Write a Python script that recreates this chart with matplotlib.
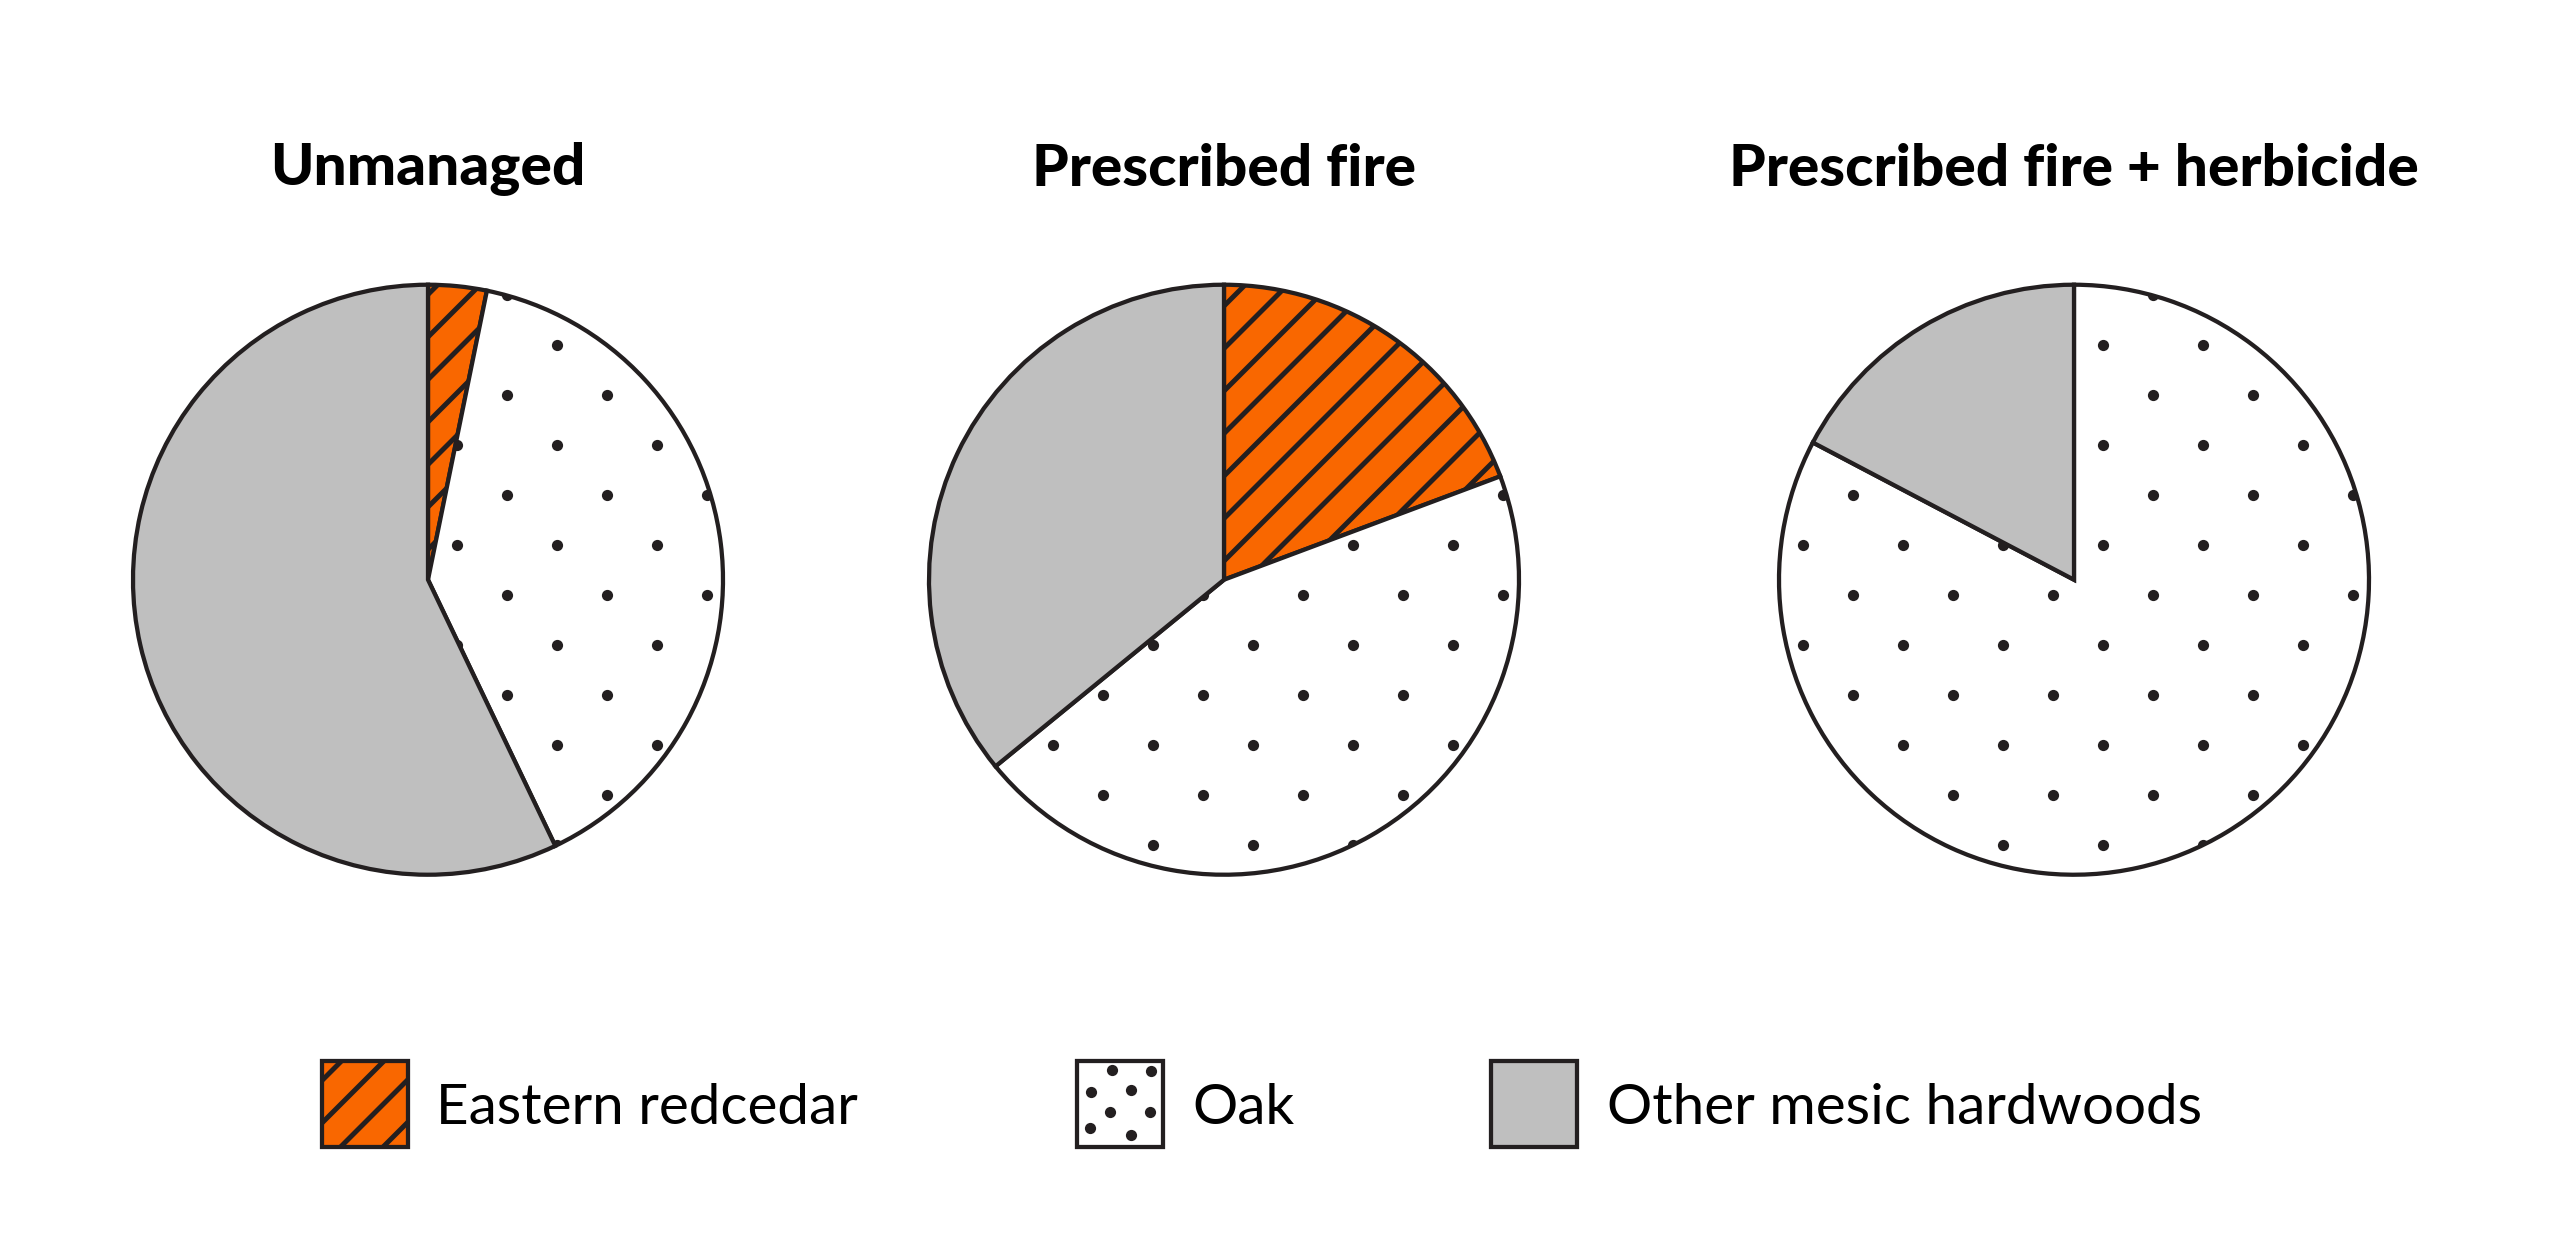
import numpy as np
import matplotlib.pyplot as plt
from matplotlib.patches import Rectangle

# Species share (%) per treatment
treatments = ["Unmanaged", "Prescribed fire", "Prescribed fire + herbicide"]
species = ["Eastern redcedar", "Oak", "Other mesic hardwoods"]
redcedar = [3.2, 19.3, 0.0]
oak = [39.7, 44.8, 82.7]
other = [57.1, 35.9, 17.3]

orange = "#F96700"
gray = "#BFBFBF"
dark = "#231F20"

plt.rcParams["font.family"] = ["Lato", "DejaVu Sans"]
plt.rcParams["hatch.linewidth"] = 1.4

DPI = 255
W, H = 2550, 1258
fig = plt.figure(figsize=(W / DPI, (H + 0.5) / DPI), dpi=DPI)

centers_x = [428, 1224, 2074]
center_y = 580
R = 295  # pie radius in pixels
half = 1.05 * R

# dot texture for the oak wedges (staggered grid, data units)
dx, dy = 100 / R, 50 / R
pts = []
for i, yy in enumerate(np.arange(0.119 - 8 * dy, 1.2, dy)):
    shift = 0.0 if i % 2 == 0 else dx / 2
    for xx in np.arange(0.097 - 4 * dx + shift, 1.2, dx):
        pts.append((xx, yy))
pts = np.array(pts)

for k, name in enumerate(treatments):
    ax = fig.add_axes([(centers_x[k] - half) / W, 1 - (center_y + half) / H,
                       2 * half / W, 2 * half / H])
    vals = [redcedar[k], oak[k], other[k]]
    wedges, _ = ax.pie(vals, colors=[orange, "white", gray], startangle=90,
                       counterclock=False, radius=1,
                       wedgeprops=dict(edgecolor=dark, linewidth=1.2))
    wedges[0].set_hatch("//")
    dots = ax.scatter(pts[:, 0], pts[:, 1], s=10, color=dark, linewidths=0, zorder=3)
    dots.set_clip_path(wedges[1])
    ax.set_xlim(-1.05, 1.05)
    ax.set_ylim(-1.05, 1.05)
    ax.set_aspect("equal")
    ax.axis("off")
    fig.text(centers_x[k] / W, 1 - 169 / H, name, ha="center", va="center",
             fontsize=16.5, fontweight="black", color="black")

# legend drawn by hand
lax = fig.add_axes([0, 0, 1, 1], zorder=-1)
lax.set_xlim(0, W)
lax.set_ylim(H, 0)
lax.axis("off")

box_x = [322, 1077, 1491]
text_x = [436, 1192, 1607]
box_colors = [orange, "white", gray]
for j, label in enumerate(species):
    r = Rectangle((box_x[j], 1061), 86, 86, facecolor=box_colors[j],
                  edgecolor=dark, linewidth=1.2, hatch="//" if j == 0 else None)
    lax.add_patch(r)
    lax.text(text_x[j], 1108, label, ha="left", va="center", fontsize=16,
             color="black")

# irregular dots inside the oak legend box
ox = [35, 74, 14, 54, 33, 73, 13, 54]
oy = [9, 10, 31, 29, 51, 51, 67, 74]
lax.scatter(np.array(ox) + box_x[1], np.array(oy) + 1061, s=10, color=dark, linewidths=0)

fig.savefig("out.png", dpi=DPI, facecolor="white")
